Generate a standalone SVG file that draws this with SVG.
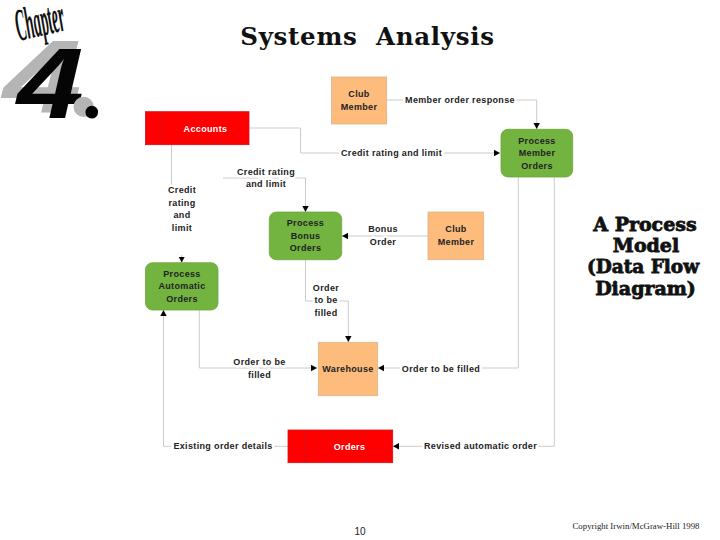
<svg xmlns="http://www.w3.org/2000/svg" width="720" height="540" viewBox="0 0 720 540">
<style>
.conn{fill:none;stroke:#cbcbcb;stroke-width:1;marker-end:url(#arrow)}
.plain{fill:none;stroke:#cbcbcb;stroke-width:1}
.t{font-family:"Liberation Sans",Arial,sans-serif;font-size:9px;font-weight:bold;fill:#222;text-anchor:middle;letter-spacing:.35px}
.lbl{paint-order:stroke;stroke:#fff;stroke-width:5px;stroke-linejoin:round}
.store{fill:#f00;stroke:#c8141e;stroke-width:.8}
.ext{fill:#fdbb7c;stroke:#d9b48c;stroke-width:.8}
.proc{fill:#73b33f;stroke:#6aa63a;stroke-width:.8}
.head{font-family:"DejaVu Serif","Liberation Serif",serif;font-weight:bold;fill:#111;text-anchor:middle;stroke:#111;stroke-width:.8px}
</style>
<defs>
<marker id="arrow" markerUnits="userSpaceOnUse" markerWidth="7" markerHeight="7" refX="6" refY="3.5" orient="auto"><path d="M0 .3L6 3.5L0 6.7Z" fill="#000"/></marker>
</defs>
<rect width="720" height="540" fill="#fff"/>
<g id="logo">
<text transform="translate(19 41) rotate(-13) scale(.5 1)" font-family="Liberation Serif,serif" font-style="italic" font-weight="bold" font-size="46" fill="#111" textLength="98" lengthAdjust="spacingAndGlyphs">Chapter</text>
<text transform="translate(3 113) scale(1.36 1)" font-family="Liberation Sans,sans-serif" font-style="italic" font-weight="bold" font-size="104" fill="#b5b5b5">4</text>
<text transform="translate(17 118) scale(1.2 1)" font-family="Liberation Sans,sans-serif" font-style="italic" font-weight="bold" font-size="100" fill="#050505">4</text>
<text x="68" y="115" font-family="Liberation Serif,serif" font-weight="bold" font-size="125" fill="#b5b5b5">.</text>
<text x="82" y="118" font-family="Liberation Serif,serif" font-weight="bold" font-size="78" fill="#050505">.</text>
</g>
<text id="title" x="367.500" y="45" font-family="DejaVu Serif,serif" font-weight="bold" font-size="24.500" fill="#111" text-anchor="middle" letter-spacing=".7" style="white-space:pre">Systems  Analysis</text>
<g id="connectors">
<path class="conn" d="M387 100H536.700V129"/>
<path class="conn" d="M249 128H300.500V153H500"/>
<path class="conn" d="M223 178H305.500V212"/>
<path class="plain" d="M171.500 145V186"/>
<path class="conn" d="M181.700 255V262.500"/>
<path class="conn" d="M428 236H342"/>
<path class="conn" d="M305.500 260V301H348.300V342"/>
<path class="conn" d="M199.300 310V368H317"/>
<path class="conn" d="M518.300 177V368H378"/>
<path class="conn" d="M554.300 177V446.300H393"/>
<path class="conn" d="M288 446.300H163.500V310"/>
</g>
<g id="accounts"><rect class="store" x="145.500" y="111.700" width="103.500" height="33"/><path d="M163.500 111.700V144.700" stroke="#c8141e" stroke-width=".8"/><text class="t" x="205.500" y="131.500" style="fill:#fff">Accounts</text></g>
<g id="club-member-1"><rect class="ext" x="331.500" y="77" width="55.200" height="47"/><text class="t" x="359" y="97">Club</text><text class="t" x="359" y="110">Member</text></g>
<g id="process-member"><rect class="proc" x="501" y="129.300" width="71.700" height="47.700" rx="7"/><text class="t" x="537" y="143.500">Process</text><text class="t" x="537" y="156">Member</text><text class="t" x="537" y="168.500">Orders</text></g>
<g id="process-bonus"><rect class="proc" x="269.300" y="212" width="72.400" height="47.700" rx="7"/><text class="t" x="305.500" y="226">Process</text><text class="t" x="305.500" y="238.500">Bonus</text><text class="t" x="305.500" y="251">Orders</text></g>
<g id="club-member-2"><rect class="ext" x="428" y="212" width="55.700" height="47.700"/><text class="t" x="456" y="232">Club</text><text class="t" x="456" y="245">Member</text></g>
<g id="process-automatic"><rect class="proc" x="145.500" y="262.700" width="72.500" height="47.300" rx="7"/><text class="t" x="182" y="276.500">Process</text><text class="t" x="182" y="289">Automatic</text><text class="t" x="182" y="301.500">Orders</text></g>
<g id="warehouse"><rect class="ext" x="318.300" y="342.300" width="59.400" height="53.400"/><text class="t" x="348" y="371.500">Warehouse</text></g>
<g id="orders"><rect class="store" x="288" y="430" width="104.700" height="32.700"/><path d="M305.300 430V462.700" stroke="#c8141e" stroke-width=".8"/><text class="t" x="349.500" y="449.500" style="fill:#fff">Orders</text></g>
<g id="labels">
<text class="t lbl" x="460" y="103">Member order response</text>
<text class="t lbl" x="391.500" y="156">Credit rating and limit</text>
<text class="t lbl" x="266" y="175">Credit rating</text>
<text class="t lbl" x="266" y="187">and limit</text>
<text class="t lbl" x="182" y="193">Credit</text>
<text class="t lbl" x="182" y="206">rating</text>
<text class="t lbl" x="182" y="218">and</text>
<text class="t lbl" x="182" y="231">limit</text>
<text class="t lbl" x="383" y="232">Bonus</text>
<text class="t lbl" x="383" y="245">Order</text>
<text class="t lbl" x="326" y="291">Order</text>
<text class="t lbl" x="326" y="303">to be</text>
<text class="t lbl" x="326" y="315.500">filled</text>
<text class="t lbl" x="259.500" y="365">Order to be</text>
<text class="t lbl" x="259.500" y="377.500">filled</text>
<text class="t lbl" x="441" y="371.500">Order to be filled</text>
<text class="t lbl" x="223" y="449">Existing order details</text>
<text class="t lbl" x="480.500" y="449">Revised automatic order</text>
</g>
<g id="heading">
<text class="head" x="645" y="231" font-size="19">A Process</text>
<text class="head" x="646" y="252" font-size="19">Model</text>
<text class="head" x="643" y="273" font-size="18.500">(Data Flow</text>
<text class="head" x="645.500" y="295" font-size="19">Diagram)</text>
</g>
<text id="page" x="360" y="535" font-family="Liberation Sans,sans-serif" font-size="10" fill="#222" text-anchor="middle">10</text>
<text id="copyright" x="636" y="529" font-family="Liberation Serif,serif" font-size="8.800" fill="#222" text-anchor="middle">Copyright Irwin/McGraw-Hill 1998</text>
</svg>
